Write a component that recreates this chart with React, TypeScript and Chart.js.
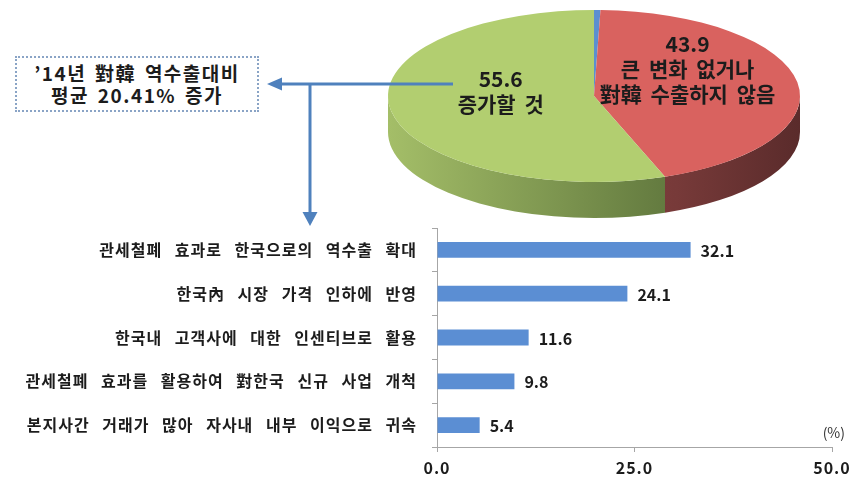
import React, { useEffect, useRef } from 'react';
import { Chart, registerables } from 'chart.js';

Chart.register(...registerables);

// ---------- data ----------
const pieLabels = ['감소할 것', '큰 변화 없거나 對韓 수출하지 않음', '증가할 것'];
const pieValues = [0.5, 43.9, 55.6];
const pieTextLines: string[][] = [[], ['큰 변화 없거나', '對韓 수출하지 않음'], ['증가할 것']];

const barCategories = [
  '관세철폐 효과로 한국으로의 역수출 확대',
  '한국內 시장 가격 인하에 반영',
  '한국내 고객사에 대한 인센티브로 활용',
  '관세철폐 효과를 활용하여 對한국 신규 사업 개척',
  '본지사간 거래가 많아 자사내 내부 이익으로 귀속',
];
const barValues = [32.1, 24.1, 11.6, 9.8, 5.4];
const xMin = 0;
const xMax = 50;
const xStep = 25;

const boxLines = ['’14년 對韓 역수출대비', '평균 20.41% 증가'];
const unitLabel = '(%)';

// ---------- styles ----------
const FONT = "'Noto Sans CJK KR', 'Noto Sans', sans-serif";
const TEXT = '#1c1c1c';
const pieTopColors = ['#5B8FD0', '#D9625F', '#B2CE70'];
const pieSideStops = [
  ['#3F6A9E', '#35598A', '#2E4E78'],
  ['#A04E4C', '#773A39', '#5A2B2B'],
  ['#A4BE68', '#61783E', '#56693A'],
];
const pieLabelShift = [0, -21, -11];
const PIE_CY = 96;
const PIE_RATIO = 86 / 206;
const PIE_DEPTH = 36;
const BAR_COLOR = '#5B8ED3';
const AXIS_COLOR = '#A6A6A6';

const pie3dPlugin = {
  id: 'pie3d',
  beforeDatasetsDraw(chart: any) {
    const ctx = chart.ctx as CanvasRenderingContext2D;
    const arcs = chart.getDatasetMeta(0).data;
    const a0 = arcs[0];
    const cx = a0.x;
    const cy0 = a0.y;
    const rx = a0.outerRadius;
    const ry = rx * PIE_RATIO;
    ctx.save();
    arcs.forEach((arc: any, i: number) => {
      const s = arc.startAngle;
      const e = arc.endAngle;
      for (let k = -1; k <= 1; k++) {
        const lo = Math.max(s, 2 * Math.PI * k);
        const hi = Math.min(e, Math.PI + 2 * Math.PI * k);
        if (hi <= lo) continue;
        const g = ctx.createLinearGradient(cx - rx, 0, cx + rx, 0);
        g.addColorStop(0, pieSideStops[i][0]);
        g.addColorStop(0.7, pieSideStops[i][1]);
        g.addColorStop(1, pieSideStops[i][2]);
        ctx.beginPath();
        ctx.ellipse(cx, PIE_CY, rx, ry, 0, lo, hi);
        ctx.ellipse(cx, PIE_CY + PIE_DEPTH, rx, ry, 0, hi, lo, true);
        ctx.closePath();
        ctx.fillStyle = g;
        ctx.fill();
      }
    });
    ctx.translate(cx, PIE_CY);
    ctx.scale(1, ry / rx);
    ctx.translate(-cx, -cy0);
  },
  afterDatasetsDraw(chart: any) {
    const ctx = chart.ctx as CanvasRenderingContext2D;
    ctx.restore();
    const arcs = chart.getDatasetMeta(0).data;
    const a0 = arcs[0];
    const cx = a0.x;
    const rx = a0.outerRadius;
    const ry = rx * PIE_RATIO;
    ctx.save();
    ctx.font = `bold 21px ${FONT}`;
    ctx.fillStyle = TEXT;
    ctx.textAlign = 'center';
    ctx.textBaseline = 'middle';
    (ctx as any).wordSpacing = '4px';
    arcs.forEach((arc: any, i: number) => {
      const lines = pieTextLines[i];
      if (!lines.length) return;
      const mid = (arc.startAngle + arc.endAngle) / 2;
      const f = 0.46;
      const x = cx + f * rx * Math.cos(mid);
      const y = PIE_CY + f * ry * Math.sin(mid) + pieLabelShift[i];
      const all = [pieValues[i].toFixed(1), ...lines];
      all.forEach((t, j) => ctx.fillText(t, x, y + (j - (all.length - 1) / 2) * 25));
    });
    ctx.restore();
  },
};

const spacingPlugin = {
  id: 'spacing',
  beforeDraw(chart: any) {
    (chart.ctx as any).wordSpacing = '8px';
    (chart.ctx as any).letterSpacing = '1px';
  },
  beforeDatasetsDraw(chart: any) {
    (chart.ctx as any).wordSpacing = '0px';
    (chart.ctx as any).letterSpacing = '0px';
  },
};

const barLabelPlugin = {
  id: 'barLabels',
  afterDatasetsDraw(chart: any) {
    const ctx = chart.ctx as CanvasRenderingContext2D;
    const meta = chart.getDatasetMeta(0);
    ctx.save();
    ctx.font = `bold 16px ${FONT}`;
    ctx.fillStyle = TEXT;
    ctx.textAlign = 'left';
    ctx.textBaseline = 'middle';
    meta.data.forEach((bar: any, i: number) => {
      ctx.fillText(barValues[i].toFixed(1), bar.x + 10, bar.y + 1);
    });
    ctx.font = `14px ${FONT}`;
    ctx.textAlign = 'right';
    ctx.fillStyle = '#333';
    ctx.fillText(unitLabel, chart.chartArea.right + 13, chart.chartArea.bottom - 14);
    ctx.restore();
  },
};

export default function App() {
  const barRef = useRef<HTMLCanvasElement>(null);
  const pieRef = useRef<HTMLCanvasElement>(null);

  useEffect(() => {
    const bar = new Chart(barRef.current!, {
      type: 'bar',
      data: {
        labels: barCategories,
        datasets: [
          {
            data: barValues,
            backgroundColor: BAR_COLOR,
            barPercentage: 0.36,
            categoryPercentage: 1,
          },
        ],
      },
      options: {
        indexAxis: 'y',
        responsive: false,
        animation: false,
        devicePixelRatio: 1,
        layout: { padding: { top: 228, right: 19, bottom: 0, left: 0 } },
        plugins: { legend: { display: false }, tooltip: { enabled: false } },
        scales: {
          x: {
            min: xMin,
            max: xMax,
            ticks: {
              stepSize: xStep,
              callback: (v: any) => Number(v).toFixed(1),
              font: { size: 16, weight: 'bold', family: FONT },
              color: TEXT,
              padding: 6,
              maxRotation: 0,
            },
            grid: { drawOnChartArea: false, tickLength: 5, color: AXIS_COLOR },
            border: { color: AXIS_COLOR },
            afterFit: (s: any) => {
              s.height = 32;
              s.paddingLeft = 0;
              s.paddingRight = 0;
            },
          },
          y: {
            ticks: {
              font: { size: 16, weight: 'bold', family: FONT },
              color: TEXT,
              padding: 15,
            },
            grid: { drawOnChartArea: false, tickLength: 5, color: AXIS_COLOR },
            border: { color: AXIS_COLOR },
            afterFit: (s: any) => {
              s.width = 437;
              s.paddingTop = 0;
              s.paddingBottom = 0;
            },
          },
        },
      } as any,
      plugins: [spacingPlugin, barLabelPlugin],
    });

    const pie = new Chart(pieRef.current!, {
      type: 'pie',
      data: {
        labels: pieLabels,
        datasets: [
          {
            data: pieValues,
            backgroundColor: pieTopColors,
            borderWidth: 0,
          },
        ],
      },
      options: {
        responsive: false,
        animation: false,
        devicePixelRatio: 1,
        layout: { padding: { left: 388, right: 51, top: 0, bottom: 67 } },
        plugins: { legend: { display: false }, tooltip: { enabled: false } },
      } as any,
      plugins: [pie3dPlugin],
    });

    return () => {
      bar.destroy();
      pie.destroy();
    };
  }, []);

  const abs: React.CSSProperties = { position: 'absolute', left: 0, top: 0 };
  const arrow = '#4F81BD';

  return (
    <div style={{ position: 'absolute', left: 0, top: 0, width: 851, height: 479, background: '#fff', overflow: 'hidden' }}>
      <canvas ref={barRef} width={851} height={479} style={{ ...abs, width: 851, height: 479 }} />
      <canvas ref={pieRef} width={851} height={479} style={{ ...abs, width: 851, height: 479 }} />
      <svg width={851} height={479} style={abs}>
        <line x1={453} y1={84} x2={280} y2={84} stroke={arrow} strokeWidth={3} />
        <polygon points="267,84 282,77.5 282,90.5" fill={arrow} />
        <line x1={310} y1={84} x2={310} y2={214} stroke={arrow} strokeWidth={3} />
        <polygon points="310,226 302.5,212 317.5,212" fill={arrow} />
      </svg>
      <div
        style={{
          position: 'absolute',
          left: 15,
          top: 56,
          width: 244,
          height: 56,
          boxSizing: 'border-box',
          border: '2px dotted #8AA4C6',
          background: '#fff',
          display: 'flex',
          flexDirection: 'column',
          alignItems: 'center',
          justifyContent: 'center',
          fontFamily: FONT,
          fontWeight: 'bold',
          fontSize: 19,
          letterSpacing: '1.5px',
          wordSpacing: '3px',
          lineHeight: '22px',
          color: TEXT,
          textAlign: 'center',
          whiteSpace: 'nowrap',
        }}
      >
        {boxLines.map((l, i) => (
          <div key={i}>{l}</div>
        ))}
      </div>
    </div>
  );
}
